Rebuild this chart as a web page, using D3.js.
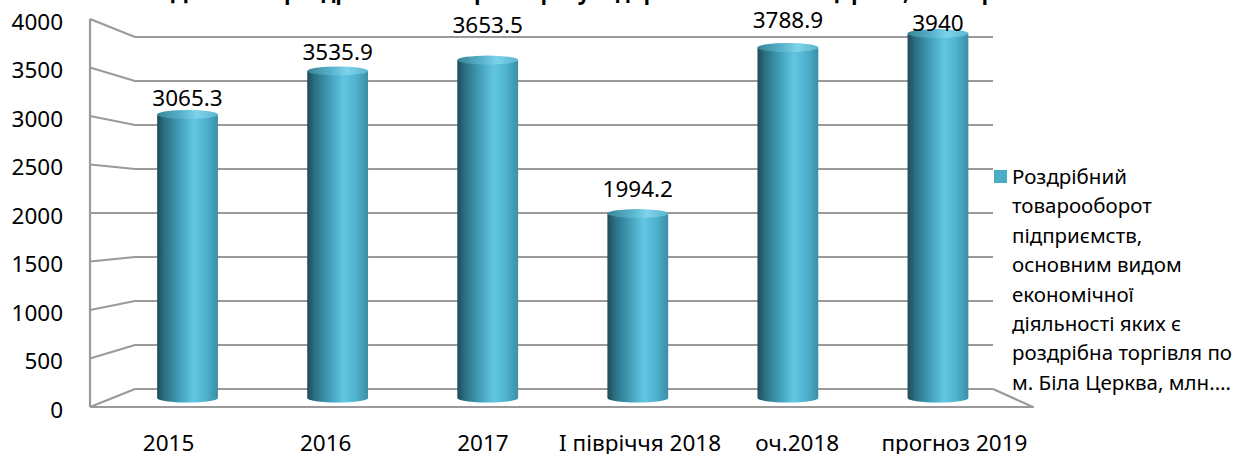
<!DOCTYPE html>
<html>
<head>
<meta charset="utf-8">
<script src="https://cdn.jsdelivr.net/npm/d3@7"></script>
<style>
  html, body { margin: 0; padding: 0; background: #fff; }
  svg { display: block; font-family: "Noto Sans", "DejaVu Sans", sans-serif; }
</style>
</head>
<body>
<svg id="chart" width="1239" height="454"></svg>
<script>
// ---------- data ----------
const categories = ["2015", "2016", "2017", "I півріччя 2018", "оч.2018", "прогноз 2019"];
const values = [3065.3, 3535.9, 3653.5, 1994.2, 3788.9, 3940];
const valueLabels = ["3065.3", "3535.9", "3653.5", "1994.2", "3788.9", "3940"];
const yTicks = [0, 500, 1000, 1500, 2000, 2500, 3000, 3500, 4000];
const yTickLabels = ["0", "500", "1000", "1500", "2000", "2500", "3000", "3500", "4000"];
const legendLines = ["Роздрібний", "товарооборот", "підприємств,", "основним видом",
  "економічної", "діяльності яких є", "роздрібна торгівля по", "м. Біла Церква, млн.…"];
const titleText = "Динаміка роздрібного товарообороту підприємств м. Біла Церква, млн. грн";

// ---------- layout (not data) ----------
const labelLift = [17, 19, 36, 25, 28, 11];   // Excel-like 3D label placement above bar tops

const svg = d3.select("#chart");
const defs = svg.append("defs");

// perspective-ish planes: front edge, bar mid-plane, back wall
const yFront = d3.scaleLinear().domain([0, 4000]).range([407, 19]);
const yBack  = d3.scaleLinear().domain([0, 4000]).range([389, 37]);
const yBar   = d3.scaleLinear().domain([0, 4000]).range([398, 28]);
const xFront = d3.scaleBand().domain(categories).range([90, 1033]);
const xBar   = d3.scaleBand().domain(categories).range([112.5, 1013])
                 .paddingInner(0.595).paddingOuter(0.2975);
const wallX0 = 90, wallX1 = 135, backRight = 993, frontRight = 1033;

// gradients
const gBody = defs.append("linearGradient").attr("id", "gBody")
  .attr("x1", "0%").attr("x2", "100%").attr("y1", "0%").attr("y2", "0%");
[["0%", "#1f4a57"], ["12%", "#2b6f82"], ["35%", "#3f9bb5"], ["60%", "#62c6e3"],
 ["80%", "#4fb2ce"], ["100%", "#3b8fa6"]].forEach(([o, c]) =>
  gBody.append("stop").attr("offset", o).attr("stop-color", c));
const gTop = defs.append("linearGradient").attr("id", "gTop")
  .attr("x1", "0%").attr("x2", "100%").attr("y1", "0%").attr("y2", "0%");
[["0%", "#3a8599"], ["40%", "#58b3cc"], ["65%", "#7dd3ea"], ["100%", "#5bb6cf"]].forEach(([o, c]) =>
  gTop.append("stop").attr("offset", o).attr("stop-color", c));

// ---------- title (cut off at top, only descenders visible) ----------
svg.append("text")
  .attr("x", 590).attr("y", 0)
  .attr("text-anchor", "middle")
  .attr("font-weight", "bold").attr("font-size", 22)
  .attr("textLength", 838).attr("lengthAdjust", "spacingAndGlyphs")
  .attr("fill", "#000")
  .text(titleText);

// ---------- walls & grid ----------
const gridColor = "#9a9a9a";
const grid = svg.append("g").attr("fill", "none").attr("stroke", gridColor)
  .attr("stroke-width", 2.2).attr("stroke-linejoin", "round");

yTicks.forEach(v => {
  grid.append("path")
    .attr("d", `M${wallX0},${yFront(v)}L${wallX1},${yBack(v)}L${backRight},${yBack(v)}`);
});
grid.append("path").attr("d", `M${wallX0},${yFront(4000)}L${wallX0},${yFront(0)}`);
grid.append("path")
  .attr("d", `M${wallX0},${yFront(0)}L${frontRight},${yFront(0)}L${backRight},${yBack(0)}`);

// ---------- y axis labels ----------
svg.append("g").selectAll("text").data(yTicks).join("text")
  .attr("x", 63).attr("y", d => yFront(d) + 2)
  .attr("text-anchor", "end").attr("dominant-baseline", "central")
  .attr("font-size", 22.5).attr("fill", "#000")
  .text((d, i) => yTickLabels[i]);

// ---------- bars (cylinders) ----------
const ry = 4.5;
const bars = svg.append("g").selectAll("g").data(values).join("g");
bars.each(function (v, i) {
  const g = d3.select(this);
  const x0 = xBar(categories[i]), w = xBar.bandwidth(), x1 = x0 + w, rx = w / 2;
  const yt = yBar(v), yb = yBar(0);
  g.append("path")
    .attr("d", `M${x0},${yt}L${x0},${yb}A${rx},${ry} 0 0 0 ${x1},${yb}L${x1},${yt}Z`)
    .attr("fill", "url(#gBody)");
  g.append("ellipse")
    .attr("cx", x0 + rx).attr("cy", yt).attr("rx", rx).attr("ry", ry)
    .attr("fill", "url(#gTop)");
});

// ---------- value labels ----------
svg.append("g").selectAll("text").data(values).join("text")
  .attr("x", (d, i) => xBar(categories[i]) + xBar.bandwidth() / 2)
  .attr("y", (d, i) => yBar(d) - labelLift[i])
  .attr("text-anchor", "middle").attr("dominant-baseline", "central")
  .attr("font-size", 22.5).attr("fill", "#000")
  .text((d, i) => valueLabels[i]);

// ---------- category labels ----------
svg.append("g").selectAll("text").data(categories).join("text")
  .attr("x", d => xFront(d) + xFront.bandwidth() / 2)
  .attr("y", 442)
  .attr("text-anchor", "middle").attr("dominant-baseline", "central")
  .attr("font-size", 22.5).attr("fill", "#000")
  .text(d => d);

// ---------- legend ----------
const lg = svg.append("g");
lg.append("rect").attr("x", 994).attr("y", 170).attr("width", 13).attr("height", 13)
  .attr("fill", "#4bacc6");
lg.selectAll("text").data(legendLines).join("text")
  .attr("x", 1012).attr("y", (d, i) => 176 + i * 29.4)
  .attr("dominant-baseline", "central")
  .attr("font-size", 20.5).attr("fill", "#000")
  .text(d => d);
</script>
</body>
</html>
